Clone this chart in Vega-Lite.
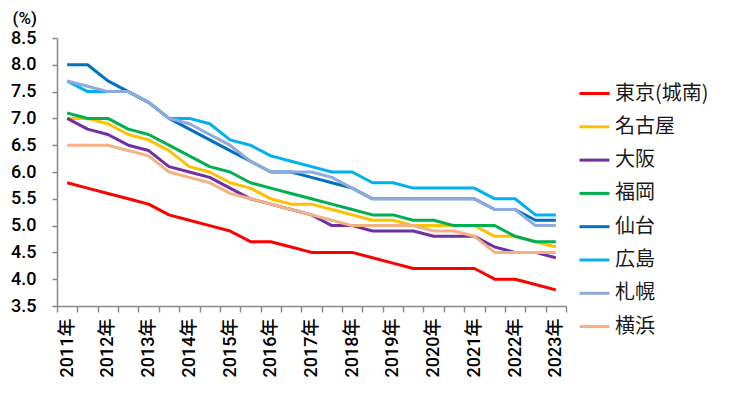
{
  "$schema": "https://vega.github.io/schema/vega-lite/v6.json",
  "width": 509,
  "height": 268,
  "autosize": {"type": "none"},
  "padding": {"left": 57, "top": 38, "right": 164, "bottom": 90},
  "background": "white",
  "config": {"view": {"stroke": null}},
  "data": {"values": [
    {"t": "2011-1", "東京(城南)": 5.8, "名古屋": 7.0, "大阪": 7.0, "福岡": 7.1, "仙台": 8.0, "広島": 7.7, "札幌": 7.7, "横浜": 6.5},
    {"t": "2011-2", "東京(城南)": 5.7, "名古屋": 7.0, "大阪": 6.8, "福岡": 7.0, "仙台": 8.0, "広島": 7.5, "札幌": 7.6, "横浜": 6.5},
    {"t": "2012-1", "東京(城南)": 5.6, "名古屋": 6.9, "大阪": 6.7, "福岡": 7.0, "仙台": 7.7, "広島": 7.5, "札幌": 7.5, "横浜": 6.5},
    {"t": "2012-2", "東京(城南)": 5.5, "名古屋": 6.7, "大阪": 6.5, "福岡": 6.8, "仙台": 7.5, "広島": 7.5, "札幌": 7.5, "横浜": 6.4},
    {"t": "2013-1", "東京(城南)": 5.4, "名古屋": 6.6, "大阪": 6.4, "福岡": 6.7, "仙台": 7.3, "広島": 7.3, "札幌": 7.3, "横浜": 6.3},
    {"t": "2013-2", "東京(城南)": 5.2, "名古屋": 6.4, "大阪": 6.1, "福岡": 6.5, "仙台": 7.0, "広島": 7.0, "札幌": 7.0, "横浜": 6.0},
    {"t": "2014-1", "東京(城南)": 5.1, "名古屋": 6.1, "大阪": 6.0, "福岡": 6.3, "仙台": 6.8, "広島": 7.0, "札幌": 6.9, "横浜": 5.9},
    {"t": "2014-2", "東京(城南)": 5.0, "名古屋": 6.0, "大阪": 5.9, "福岡": 6.1, "仙台": 6.6, "広島": 6.9, "札幌": 6.7, "横浜": 5.8},
    {"t": "2015-1", "東京(城南)": 4.9, "名古屋": 5.8, "大阪": 5.7, "福岡": 6.0, "仙台": 6.4, "広島": 6.6, "札幌": 6.5, "横浜": 5.6},
    {"t": "2015-2", "東京(城南)": 4.7, "名古屋": 5.7, "大阪": 5.5, "福岡": 5.8, "仙台": 6.2, "広島": 6.5, "札幌": 6.2, "横浜": 5.5},
    {"t": "2016-1", "東京(城南)": 4.7, "名古屋": 5.5, "大阪": 5.4, "福岡": 5.7, "仙台": 6.0, "広島": 6.3, "札幌": 6.0, "横浜": 5.4},
    {"t": "2016-2", "東京(城南)": 4.6, "名古屋": 5.4, "大阪": 5.3, "福岡": 5.6, "仙台": 6.0, "広島": 6.2, "札幌": 6.0, "横浜": 5.3},
    {"t": "2017-1", "東京(城南)": 4.5, "名古屋": 5.4, "大阪": 5.2, "福岡": 5.5, "仙台": 5.9, "広島": 6.1, "札幌": 6.0, "横浜": 5.2},
    {"t": "2017-2", "東京(城南)": 4.5, "名古屋": 5.3, "大阪": 5.0, "福岡": 5.4, "仙台": 5.8, "広島": 6.0, "札幌": 5.9, "横浜": 5.1},
    {"t": "2018-1", "東京(城南)": 4.5, "名古屋": 5.2, "大阪": 5.0, "福岡": 5.3, "仙台": 5.7, "広島": 6.0, "札幌": 5.7, "横浜": 5.0},
    {"t": "2018-2", "東京(城南)": 4.4, "名古屋": 5.1, "大阪": 4.9, "福岡": 5.2, "仙台": 5.5, "広島": 5.8, "札幌": 5.5, "横浜": 5.0},
    {"t": "2019-1", "東京(城南)": 4.3, "名古屋": 5.1, "大阪": 4.9, "福岡": 5.2, "仙台": 5.5, "広島": 5.8, "札幌": 5.5, "横浜": 5.0},
    {"t": "2019-2", "東京(城南)": 4.2, "名古屋": 5.0, "大阪": 4.9, "福岡": 5.1, "仙台": 5.5, "広島": 5.7, "札幌": 5.5, "横浜": 5.0},
    {"t": "2020-1", "東京(城南)": 4.2, "名古屋": 5.0, "大阪": 4.8, "福岡": 5.1, "仙台": 5.5, "広島": 5.7, "札幌": 5.5, "横浜": 4.9},
    {"t": "2020-2", "東京(城南)": 4.2, "名古屋": 5.0, "大阪": 4.8, "福岡": 5.0, "仙台": 5.5, "広島": 5.7, "札幌": 5.5, "横浜": 4.9},
    {"t": "2021-1", "東京(城南)": 4.2, "名古屋": 5.0, "大阪": 4.8, "福岡": 5.0, "仙台": 5.5, "広島": 5.7, "札幌": 5.5, "横浜": 4.8},
    {"t": "2021-2", "東京(城南)": 4.0, "名古屋": 4.8, "大阪": 4.6, "福岡": 5.0, "仙台": 5.3, "広島": 5.5, "札幌": 5.3, "横浜": 4.5},
    {"t": "2022-1", "東京(城南)": 4.0, "名古屋": 4.8, "大阪": 4.5, "福岡": 4.8, "仙台": 5.3, "広島": 5.5, "札幌": 5.3, "横浜": 4.5},
    {"t": "2022-2", "東京(城南)": 3.9, "名古屋": 4.7, "大阪": 4.5, "福岡": 4.7, "仙台": 5.1, "広島": 5.2, "札幌": 5.0, "横浜": 4.5},
    {"t": "2023-1", "東京(城南)": 3.8, "名古屋": 4.6, "大阪": 4.4, "福岡": 4.7, "仙台": 5.1, "広島": 5.2, "札幌": 5.0, "横浜": 4.5}
  ]},
  "transform": [
    {"fold": ["東京(城南)", "名古屋", "大阪", "福岡", "仙台", "広島", "札幌", "横浜"], "as": ["city", "v"]}
  ],
  "mark": {"type": "line", "strokeWidth": 3, "strokeJoin": "round"},
  "encoding": {
    "x": {
      "field": "t", "type": "ordinal", "bandPosition": 0.5,
      "scale": {"type": "band", "paddingInner": 0, "paddingOuter": 0},
      "axis": {
        "title": null,
        "labelAngle": -90,
        "labelAlign": "right",
        "labelBaseline": "middle",
        "labelExpr": "test(/-1$/, datum.value) ? slice(datum.value, 0, 4) + '年' : ''",
        "labelFont": "Roboto, Noto Sans CJK JP",
        "labelFontSize": 18,
        "labelFontWeight": 500,
        "labelColor": "#000000",
        "labelPadding": 6,
        "tickBand": "extent",
        "tickSize": 6,
        "tickColor": "#898989",
        "domainColor": "#898989",
        "tickWidth": 1.5,
        "domainWidth": 1.5,
        "labelOverlap": false
      }
    },
    "y": {
      "field": "v", "type": "quantitative",
      "scale": {"domain": [3.5, 8.5], "nice": false, "zero": false},
      "axis": {
        "title": "(%)",
        "titleAngle": 0,
        "titleAlign": "left",
        "titleBaseline": "middle",
        "titleX": -45,
        "titleY": -20,
        "titleFont": "Roboto",
        "titleFontSize": 17,
        "titleFontWeight": 500,
        "titleColor": "#000000",
        "values": [3.5, 4, 4.5, 5, 5.5, 6, 6.5, 7, 7.5, 8, 8.5],
        "format": ".1f",
        "labelFont": "Roboto",
        "labelFontSize": 18,
        "labelFontWeight": 500,
        "labelColor": "#000000",
        "labelPadding": 16,
        "tickSize": 5,
        "tickColor": "#898989",
        "domainColor": "#898989",
        "tickWidth": 1.5,
        "domainWidth": 1.5,
        "grid": false
      }
    },
    "color": {
      "field": "city", "type": "nominal",
      "scale": {
        "domain": ["東京(城南)", "名古屋", "大阪", "福岡", "仙台", "広島", "札幌", "横浜"],
        "range": ["#FF0000", "#FFC000", "#7030A0", "#00B050", "#0070C0", "#00B0F0", "#8FAADC", "#F4B183"]
      },
      "legend": {
        "title": null,
        "orient": "none",
        "legendX": 521,
        "legendY": 39,
        "symbolType": "stroke",
        "symbolSize": 900,
        "symbolStrokeWidth": 3,
        "labelFont": "Noto Sans CJK JP",
        "labelFontSize": 20,
        "labelColor": "#1a1a1a",
        "labelOffset": 4,
        "rowPadding": 6.3,
        "labelLimit": 200
      }
    }
  }
}
